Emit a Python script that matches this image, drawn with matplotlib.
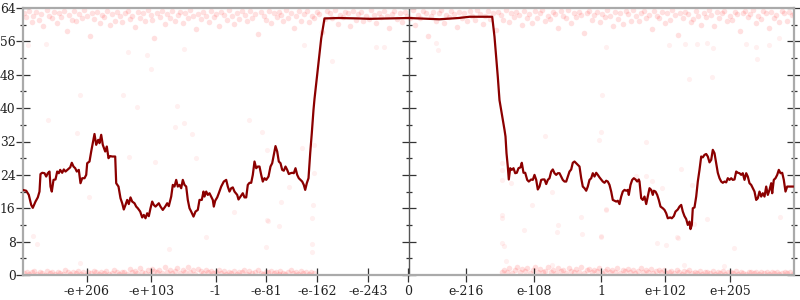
import numpy as np
import matplotlib
matplotlib.use("Agg")
import matplotlib.pyplot as plt
from matplotlib.ticker import MultipleLocator

# ---------------- data ----------------
tick_values = [-1e206, -1e103, -1.0, -1e-81, -1e-162, -1e-243, 0.0,
               1e-216, 1e-108, 1.0, 1e102, 1e205]
tick_labels = ["-e+206", "-e+103", "-1", "-e-81", "-e-162", "-e-243", "0",
               "e-216", "e-108", "1", "e+102", "e+205"]
y_ticks = [0, 8, 16, 24, 32, 40, 48, 56, 64]

# x unit: float ordinal scaled so that the largest double sits at 386
line_xy = [
    (-386, 20.4), (-382.3, 20.2), (-379.7, 19.2), (-377.3, 16.8), (-375.7, 16.1), (-373, 17.6),
    (-370.7, 18.6), (-369, 20), (-368, 24.2), (-366.3, 24.5), (-364, 24.4), (-362.3, 23.6),
    (-360.7, 24.4), (-359, 24.8), (-358, 21.2), (-356.7, 20), (-355, 22.8), (-353, 22.9),
    (-351.3, 24.8), (-349.7, 24.4), (-348.3, 25.2), (-346.3, 24.5), (-344.7, 25.3), (-343, 24.8),
    (-340.7, 25.3), (-338.3, 25.8), (-336.7, 26.9), (-335, 26), (-333.3, 25.6), (-331.7, 24.8),
    (-329.7, 25.2), (-328, 22), (-326.3, 23.2), (-324, 23.2), (-322.3, 24), (-321.3, 26.8),
    (-319, 27.2), (-317.3, 29.6), (-315.7, 31.6), (-314, 33.8), (-312.3, 31.2), (-310.3, 32.4),
    (-309, 31.6), (-307.3, 33.6), (-305.7, 31.2), (-303.3, 29.6), (-301.7, 30.8), (-300, 28),
    (-298.3, 28.5), (-296.3, 28.4), (-293.3, 28.4), (-292.3, 22), (-290, 21.2), (-288, 18.4),
    (-286.3, 17.2), (-284.7, 15.7), (-283, 16.8), (-281.3, 18), (-279.7, 17), (-278, 18.6),
    (-276.3, 17.6), (-274, 17.2), (-272.3, 16.4), (-270.7, 16), (-268.3, 15.2), (-266.3, 13.8),
    (-264.7, 14.4), (-263, 13.6), (-261.3, 14.8), (-259.7, 14.1), (-258, 16), (-256.3, 17.6),
    (-254.7, 16.8), (-253, 16.4), (-251.3, 16.8), (-249.7, 17.2), (-248, 16.4), (-245.7, 15.6),
    (-243.3, 16.4), (-241.3, 17.2), (-239.7, 16.5), (-237.3, 18.8), (-235.7, 21.6), (-234, 21.2),
    (-232.3, 22.8), (-230.7, 21.2), (-229, 21.6), (-227.3, 20.8), (-225.7, 22.8), (-224, 21.6),
    (-222.3, 21.2), (-220.7, 18), (-219, 16), (-217.3, 15.2), (-215, 14), (-213, 15.2),
    (-210.7, 15.6), (-209, 18), (-206.7, 18), (-205, 20), (-204, 18.8), (-202.3, 20),
    (-200.7, 19.2), (-199, 19.6), (-197.3, 18.8), (-195.7, 18), (-194.7, 16.4), (-193.3, 17.8),
    (-191.3, 18.6), (-189.7, 19.6), (-187.3, 21.2), (-184.7, 22.4), (-182.3, 22.8), (-180.7, 21.2),
    (-179, 20), (-177.3, 20.8), (-175.7, 21), (-174, 20), (-171.3, 19.2), (-170, 18.1),
    (-168, 18.8), (-165.7, 19.6), (-164, 18.6), (-162.3, 18.6), (-160.7, 21.6), (-159, 22.1),
    (-157.3, 22.1), (-155.7, 24), (-154, 27.2), (-152.3, 25.6), (-150.7, 26), (-149, 26),
    (-147.3, 24), (-145.7, 22.4), (-144, 23.2), (-142.3, 22.8), (-140, 23.6), (-138, 26),
    (-136.3, 26.8), (-134.7, 28.8), (-133, 30.9), (-131.3, 29.6), (-129.7, 27.2), (-128, 26.8),
    (-126.3, 25.2), (-124.7, 25), (-123, 26), (-121.3, 25.2), (-119.7, 24.2), (-118, 24.4),
    (-116.3, 24.5), (-114.7, 24.4), (-113, 25.6), (-111.3, 24), (-109.7, 23.2), (-108, 22.8),
    (-106.3, 22.4), (-104.7, 21.6), (-103.3, 20.4), (-101.7, 22), (-100, 23.2), (-98.3, 29.2),
    (-96.7, 34), (-95, 39.6), (-94, 42.2), (-87.3, 56.7), (-84, 61.5), (-70, 61.6),
    (-50, 61.5), (-39, 61.4), (-20, 61.5), (0, 61.6), (20, 61.4), (31, 61.3),
    (50, 61.6), (61, 61.9), (83.7, 61.9), (86, 57.1), (89.3, 47.5), (91, 41.9),
    (96, 34.8), (97, 33.2), (98, 29.2), (99.3, 26), (100.3, 22.9), (101.7, 25.6),
    (103.3, 25.2), (105, 25.6), (106.7, 24.4), (108.3, 24.5), (110, 25.6), (112, 25.8),
    (113.3, 26.9), (115, 24.5), (116.7, 24.5), (118.7, 22.8), (120.3, 22.4), (122.7, 22.9),
    (124.3, 22.8), (126, 24), (127.7, 22.8), (129.3, 20.5), (131, 21.2), (132.7, 22.8),
    (134.3, 22.9), (136, 22.9), (137.7, 21.8), (139.3, 22.8), (141, 23.2), (142.7, 24.8),
    (144.3, 25.3), (146, 24.4), (147.7, 24), (149.3, 24.4), (151, 24.4), (152.7, 23.6),
    (154.3, 22.8), (156, 22.4), (157.7, 22.4), (159.3, 23.6), (161, 24.8), (162.7, 25.3),
    (164.3, 26.9), (166, 27.2), (167.7, 26.8), (169.3, 26.4), (171, 26), (172.7, 23.2),
    (174.3, 21.2), (176, 20.8), (177.7, 20.2), (179.3, 21.2), (181, 22.8), (182.7, 23.2),
    (184.3, 24.4), (186, 23.6), (187.7, 24.5), (189.3, 24), (191, 23.4), (192.7, 22.9),
    (194.3, 22.4), (196, 22.1), (197.7, 22.6), (199.3, 22.4), (201, 21.6), (202.7, 20),
    (204.3, 18), (206, 17.8), (207.7, 17.6), (209.3, 17.8), (211, 17), (212.7, 18.8),
    (214.3, 20), (216, 20.4), (217.7, 20.2), (219.3, 20.4), (220.3, 19.2), (222, 21.6),
    (223.7, 22.8), (225.3, 23.2), (227, 22.9), (228.7, 22.4), (230.3, 22.9), (231, 22.4),
    (232.7, 18.4), (234.3, 18), (236, 18.8), (237.7, 17), (239.3, 18.8), (241, 20.8),
    (242.7, 20.4), (244.3, 19.2), (245.3, 20.2), (247, 20), (248.7, 19.2), (250.3, 18),
    (252, 16.4), (254.3, 16), (256, 15.6), (257.7, 14.8), (259.3, 13.6), (261.7, 13.8),
    (263.3, 13.6), (265.3, 14.1), (267, 15.2), (269.3, 15.7), (271, 16.4), (272.7, 16.8),
    (274.3, 15.2), (276, 14.1), (277.7, 13.4), (279.3, 12), (281, 12.8), (282, 11),
    (283.3, 12), (284.3, 16), (286, 16.2), (287.7, 18.8), (289.3, 22.4), (291, 25.2),
    (292.7, 28.4), (294.3, 28.2), (296, 28.8), (297.7, 29), (299.3, 28.4), (301, 27),
    (302.7, 27.6), (304.3, 30), (306, 29.2), (307.7, 26.8), (309.3, 24.5), (311, 23.2),
    (312.7, 22.4), (314.3, 22.1), (316, 22.4), (317.7, 22.2), (319.3, 23.2), (321, 22.8),
    (322.7, 23.2), (324.3, 22.8), (326, 22.9), (327.7, 24.8), (329.3, 24.5), (331, 24.4),
    (332.7, 24), (334.3, 24.4), (336, 22.8), (337.7, 24.4), (339.3, 23.6), (341, 22),
    (342.7, 21.6), (344.3, 20.8), (346, 20), (347.7, 18), (349.3, 18.4), (351, 20),
    (352.7, 18.8), (354.3, 19.6), (356, 18.8), (357.7, 21.2), (359.3, 19.2), (361, 20.4),
    (362.7, 22), (363.7, 19.6), (365.3, 22.8), (367, 23.2), (368.7, 24), (370.3, 25.2),
    (372, 24.4), (373.7, 24.5), (375.3, 22.8), (377, 20), (378.7, 21.2), (380.3, 21.2),
    (384.3, 21.2),
]

top_x = [
    -385,-383,-380,-377,-376,-373,-370,-368,-366,-362,-360,-357,-355,-352,-350,-348,-345,-342,-340,-337,
    -335,-333,-330,-327,-325,-322,-319,-317,-315,-312,-309,-307,-305,-302,-299,-297,-294,-292,-289,-287,
    -284,-281,-279,-277,-274,-271,-269,-266,-264,-261,-258,-256,-254,-251,-248,-246,-243,-241,-238,-236,
    -233,-230,-228,-225,-223,-220,-218,-215,-212,-210,-207,-205,-202,-199,-197,-194,-192,-189,-187,-184,
    -181,-179,-176,-174,-171,-169,-166,-163,-161,-158,-156,-153,-151,-148,-145,-143,-140,-138,-135,-132,
    -130,-127,-125,-122,-120,-117,-114,-112,-109,-107,-104,-101,-99,-96,-94,-91,-89,-86,-83,-81,
    -78,-76,-73,-70,-68,-65,-63,-60,-58,-55,-52,-50,-47,-45,-42,-39,-37,-34,-32,-29,
    -27,-24,-21,-19,-16,-14,-11,-8,-6,-3,-1,2,5,7,10,12,15,18,20,23,
    25,28,31,33,36,38,41,43,46,49,51,54,56,59,62,64,67,69,72,75,
    77,80,82,85,88,90,93,95,98,101,103,106,108,111,114,116,119,121,124,127,
    129,132,134,137,140,142,145,147,150,153,155,158,160,163,166,168,171,173,176,179,
    181,184,186,189,192,194,197,199,202,205,207,210,212,215,218,220,223,225,228,231,
    233,236,238,241,244,246,249,251,254,257,259,262,264,267,270,272,275,277,280,283,
    285,288,290,293,296,298,301,303,306,309,311,314,316,319,322,324,327,329,332,335,
    337,340,342,345,348,350,353,355,358,361,363,366,368,371,374,376,379,381,384,386,
]
top_y = [
    62.9,61.8,63.4,60.7,62.2,63.1,61.2,62.6,59.8,63.5,62.0,61.5,63.0,60.3,62.7,61.9,63.3,58.6,62.4,61.1,
    63.2,60.9,62.5,61.6,63.6,62.1,57.4,62.8,61.3,63.0,60.5,62.3,61.8,63.4,59.9,62.6,61.0,63.1,62.0,60.6,
    62.7,63.3,61.4,62.2,59.5,63.0,61.7,62.9,60.8,63.5,62.4,61.2,56.9,62.8,61.9,63.2,60.2,62.5,61.6,63.4,
    61.0,62.3,63.1,60.4,62.7,61.5,63.6,62.0,58.9,62.6,61.3,63.0,62.2,60.7,63.3,61.8,62.5,59.6,63.1,62.4,
    61.1,63.5,62.0,60.1,62.8,61.4,63.2,62.3,60.9,63.4,61.7,62.6,57.8,63.0,62.1,61.2,63.3,60.5,62.7,61.9,
    63.1,62.4,60.8,63.6,61.5,62.9,59.3,62.2,63.2,61.0,62.6,63.4,60.6,62.0,61.7,63.0,62.5,58.3,61.3,63.3,
    62.8,61.6,63.5,60.2,62.3,61.9,63.1,62.7,59.7,63.4,61.2,62.5,63.0,60.9,62.1,61.4,63.6,62.4,60.3,62.9,
    61.8,63.2,62.0,59.1,62.6,63.4,61.3,62.8,60.7,63.0,62.2,61.5,63.5,60.0,62.4,61.7,63.3,62.9,57.2,62.1,
    63.1,61.0,62.7,63.5,60.4,62.3,61.8,63.2,62.5,59.4,63.0,61.6,62.8,60.8,63.4,62.0,61.2,63.6,62.6,60.1,
    62.2,63.3,61.4,62.9,58.8,63.1,62.4,61.1,63.5,60.6,62.7,61.9,63.0,62.3,59.9,63.4,61.5,62.6,60.3,63.2,
    61.7,62.8,63.6,60.9,62.1,61.3,63.1,62.5,59.2,63.3,62.0,61.6,63.5,60.5,62.9,61.8,63.0,62.4,58.1,62.7,
    63.4,61.2,62.3,63.1,60.7,62.6,61.9,63.5,62.2,59.6,63.0,61.4,62.8,60.2,63.3,62.5,61.0,63.6,62.1,60.8,
    62.9,63.2,61.5,62.4,59.0,63.4,62.0,61.7,63.1,60.4,62.7,61.1,63.5,62.3,57.6,62.8,61.6,63.0,62.6,60.6,
    61.3,63.3,62.1,60.0,62.9,61.8,63.6,62.4,59.8,63.1,61.5,62.7,63.4,60.9,62.2,61.2,63.0,62.5,58.5,62.8,
    63.2,61.9,62.6,63.5,60.3,62.0,61.4,63.3,62.7,59.3,63.0,61.7,62.4,60.7,63.4,62.9,61.0,63.1,62.3,62.6,
]

bot_x = [
    -385,-382,-380,-377,-375,-372,-369,-367,-364,-362,-359,-357,-354,-351,-349,-346,-344,-341,-339,-336,
    -333,-331,-328,-326,-323,-321,-318,-315,-313,-310,-308,-305,-303,-300,-297,-295,-292,-290,-287,-285,
    -282,-279,-277,-274,-272,-269,-267,-264,-261,-259,-256,-254,-251,-249,-246,-243,-241,-238,-236,-233,
    -231,-228,-225,-223,-220,-218,-215,-213,-210,-207,-205,-202,-200,-197,-195,-192,-189,-187,-184,-182,
    -179,-177,-174,-171,-169,-166,-164,-161,-159,-156,-153,-151,-148,-146,-143,-141,-138,-135,-133,-130,
    -128,-125,-123,-120,-117,-115,-112,-110,-107,-105,-102,-99,-97,-94,
    94,96,99,101,104,107,109,112,114,117,119,122,125,127,130,132,135,137,140,143,
    145,148,150,153,155,158,161,163,166,168,171,173,176,179,181,184,186,189,191,194,
    197,199,202,204,207,209,212,215,217,220,222,225,227,230,233,235,238,240,243,245,
    248,251,253,256,258,261,263,266,269,271,274,276,279,281,284,287,289,292,294,297,
    299,302,305,307,310,312,315,317,320,323,325,328,330,333,335,338,341,343,346,348,
    351,353,356,359,361,364,366,369,371,374,377,379,382,385,
]
bot_y = [
    0.4,0.8,0.2,0.6,1.0,0.3,0.7,0.5,0.1,0.9,0.4,0.6,0.2,0.8,0.5,0.3,1.1,0.6,0.2,0.7,
    0.5,0.9,0.3,0.6,0.1,0.8,0.4,1.0,0.6,0.2,0.7,0.4,0.9,0.3,0.5,1.2,0.7,0.2,0.6,0.8,
    0.3,1.4,0.6,1.0,0.4,1.7,0.8,0.5,1.2,0.3,1.5,0.9,0.6,1.1,0.4,1.8,0.7,1.3,0.5,1.0,
    1.6,0.4,1.2,0.8,1.9,0.6,1.1,0.3,1.4,0.9,0.5,1.3,0.7,1.0,0.4,0.8,1.2,0.5,0.9,0.3,
    0.7,0.5,1.0,0.3,0.8,0.6,1.1,0.2,0.9,0.4,0.7,1.2,0.5,0.3,0.8,0.6,1.0,0.4,0.7,0.2,
    0.9,0.5,0.3,0.8,1.1,0.4,0.6,0.2,0.9,0.5,0.7,0.3,0.8,0.4,
    0.6,1.3,0.8,1.7,0.5,1.1,1.9,0.7,1.4,0.9,1.6,0.4,1.2,2.0,0.8,1.5,0.6,1.0,1.8,0.7,
    1.3,0.5,1.6,0.9,1.2,0.4,1.7,1.0,0.6,1.4,0.8,1.9,0.5,1.1,1.5,0.7,1.3,0.9,1.6,0.4,
    1.0,1.4,0.6,1.2,0.8,1.7,0.5,1.1,0.9,1.5,0.7,1.3,0.4,1.0,1.6,0.6,1.2,0.8,1.4,0.5,
    0.9,1.1,0.6,1.3,0.4,0.8,1.0,0.5,1.2,0.7,0.3,0.9,0.6,1.1,0.4,0.8,0.5,1.0,0.3,0.7,
    0.6,0.4,0.9,0.2,0.7,0.5,1.0,0.3,0.8,0.6,0.4,0.9,0.2,0.7,0.5,0.3,0.8,0.6,0.4,0.7,
    0.3,0.6,0.5,0.8,0.2,0.7,0.4,0.6,0.3,0.5,0.8,0.4,0.6,0.2,
]

outliers = [
    (-329,43.1),(-286,43.1),(-281,53.4),(-262,52.7),(-258,49.4),(-224,54.2),(-381,55.1),(-363,55.4),
    (-361,37.2),(-332,34.0),(-272,40.3),(-231,40.5),(-233,35.5),(-224,36.4),(-216,33.8),(-280,28.3),
    (-253,27.1),(-212,28.0),(-320,18.7),(-376,9.3),(-372,7.4),(-329,2.9),(-239,6.2),(-174,15.1),
    (-202,9.1),(-142,13.2),(-130,11.7),(-143,6.7),(-96,13.7),(-96,5.5),(-96,7.4),(-95,16.8),
    (-159,37.2),(-147,34.3),(-142,30.0),(-106,30.4),(-127,17.5),(-119,21.1),(-141,12.9),(-94,31.2),
    (-94,24.4),(137,33.3),(191,32.4),(193,34.3),(94,26.8),(94,25.2),(94,22.8),(94,14.4),(94,13.7),
    (103,22.0),(144,19.9),(124,16.8),(173,13.9),(198,15.8),(116,10.8),(150,12.0),(149,10.3),
    (174,9.8),(193,9.1),(94,7.7),(96,7.0),(98,3.4),(144,2.4),(238,31.9),(228,23.7),(238,23.7),
    (244,22.5),(254,20.9),(273,25.4),(284,21.6),(286,12.2),(299,13.4),(269,9.1),(372,13.9),
    (281,47.0),(304,47.5),(194,43.1),(198,54.7),(261,55.1),(277,55.4),(289,55.4),(299,55.6),
    (305,54.4),(348,54.7),(349,51.8),(338,55.4),(361,55.1),(371,56.8),(-76,51.3),(-104,55.1),
    (-32,54.7),(-24,54.7),(28,55.6),(30,53.9),(198,15.6),(249,7.7),(258,7.2),(270,8.9),
    (326,6.5),(316,2.2),(276,2.4),(193,9.3),
]

# ---------------- helpers ----------------
HALF = 386.0
MAX_ORD = int(np.array([np.finfo(np.float64).max], dtype=np.float64).view(np.int64)[0])


def ordinal_pos(v):
    b = int(np.array([v], dtype=np.float64).view(np.int64)[0])
    mag = b & 0x7FFFFFFFFFFFFFFF
    o = -mag if v < 0 else mag
    return o / MAX_ORD * HALF


# ---------------- figure ----------------
plt.rcParams['font.family'] = ['DejaVu Serif']
fig = plt.figure(figsize=(8, 3), dpi=100)
ax = fig.add_axes([22.5 / 800, 25 / 300, 772 / 800, 267 / 300])

ax.scatter([p[0] for p in outliers], [p[1] for p in outliers], s=14, color='#ff0000',
           alpha=0.06, linewidths=0, zorder=1)
ax.scatter(top_x, top_y, s=16, color='#ff0000', alpha=0.12, linewidths=0, zorder=1)
ax.scatter(bot_x, bot_y, s=16, color='#ff0000', alpha=0.13, linewidths=0, zorder=1)

lx = [p[0] for p in line_xy]
ly = [p[1] for p in line_xy]
ax.plot(lx, ly, color='#8b0000', lw=1.6, zorder=3, solid_joinstyle='round')

ax.set_xlim(-HALF, HALF)
ax.set_ylim(0, 64)

for s in ax.spines.values():
    s.set_color('#aaaaaa')
    s.set_linewidth(1.6)

ax.set_xticks([ordinal_pos(v) for v in tick_values], tick_labels)
ax.set_yticks(y_ticks)
ax.yaxis.set_minor_locator(MultipleLocator(4))
ax.tick_params(axis='x', direction='inout', length=10, width=0.9, color='#333333',
               pad=2, labelsize=9, labelcolor='#222222')
ax.tick_params(axis='y', which='major', direction='inout', length=10, width=0.9,
               color='#333333', left=True, right=True, pad=0, labelsize=8.8,
               labelcolor='#222222')
ax.tick_params(axis='y', which='minor', direction='inout', length=5, width=0.9,
               color='#333333', left=True, right=True)

# central axis at x = 0
frac = (0 - ax.get_xlim()[0]) / (ax.get_xlim()[1] - ax.get_xlim()[0])
sec = ax.secondary_yaxis(frac)
sec.set_yticks(y_ticks)
sec.yaxis.set_minor_locator(MultipleLocator(4))
sec.tick_params(which='major', direction='inout', length=10, width=0.9, color='#333333',
                labelleft=False, labelright=False)
sec.tick_params(which='minor', direction='inout', length=5, width=0.9, color='#333333')
for s in sec.spines.values():
    s.set_color('#555555')
    s.set_linewidth(1.0)

fig.savefig('out.png', dpi=100)
